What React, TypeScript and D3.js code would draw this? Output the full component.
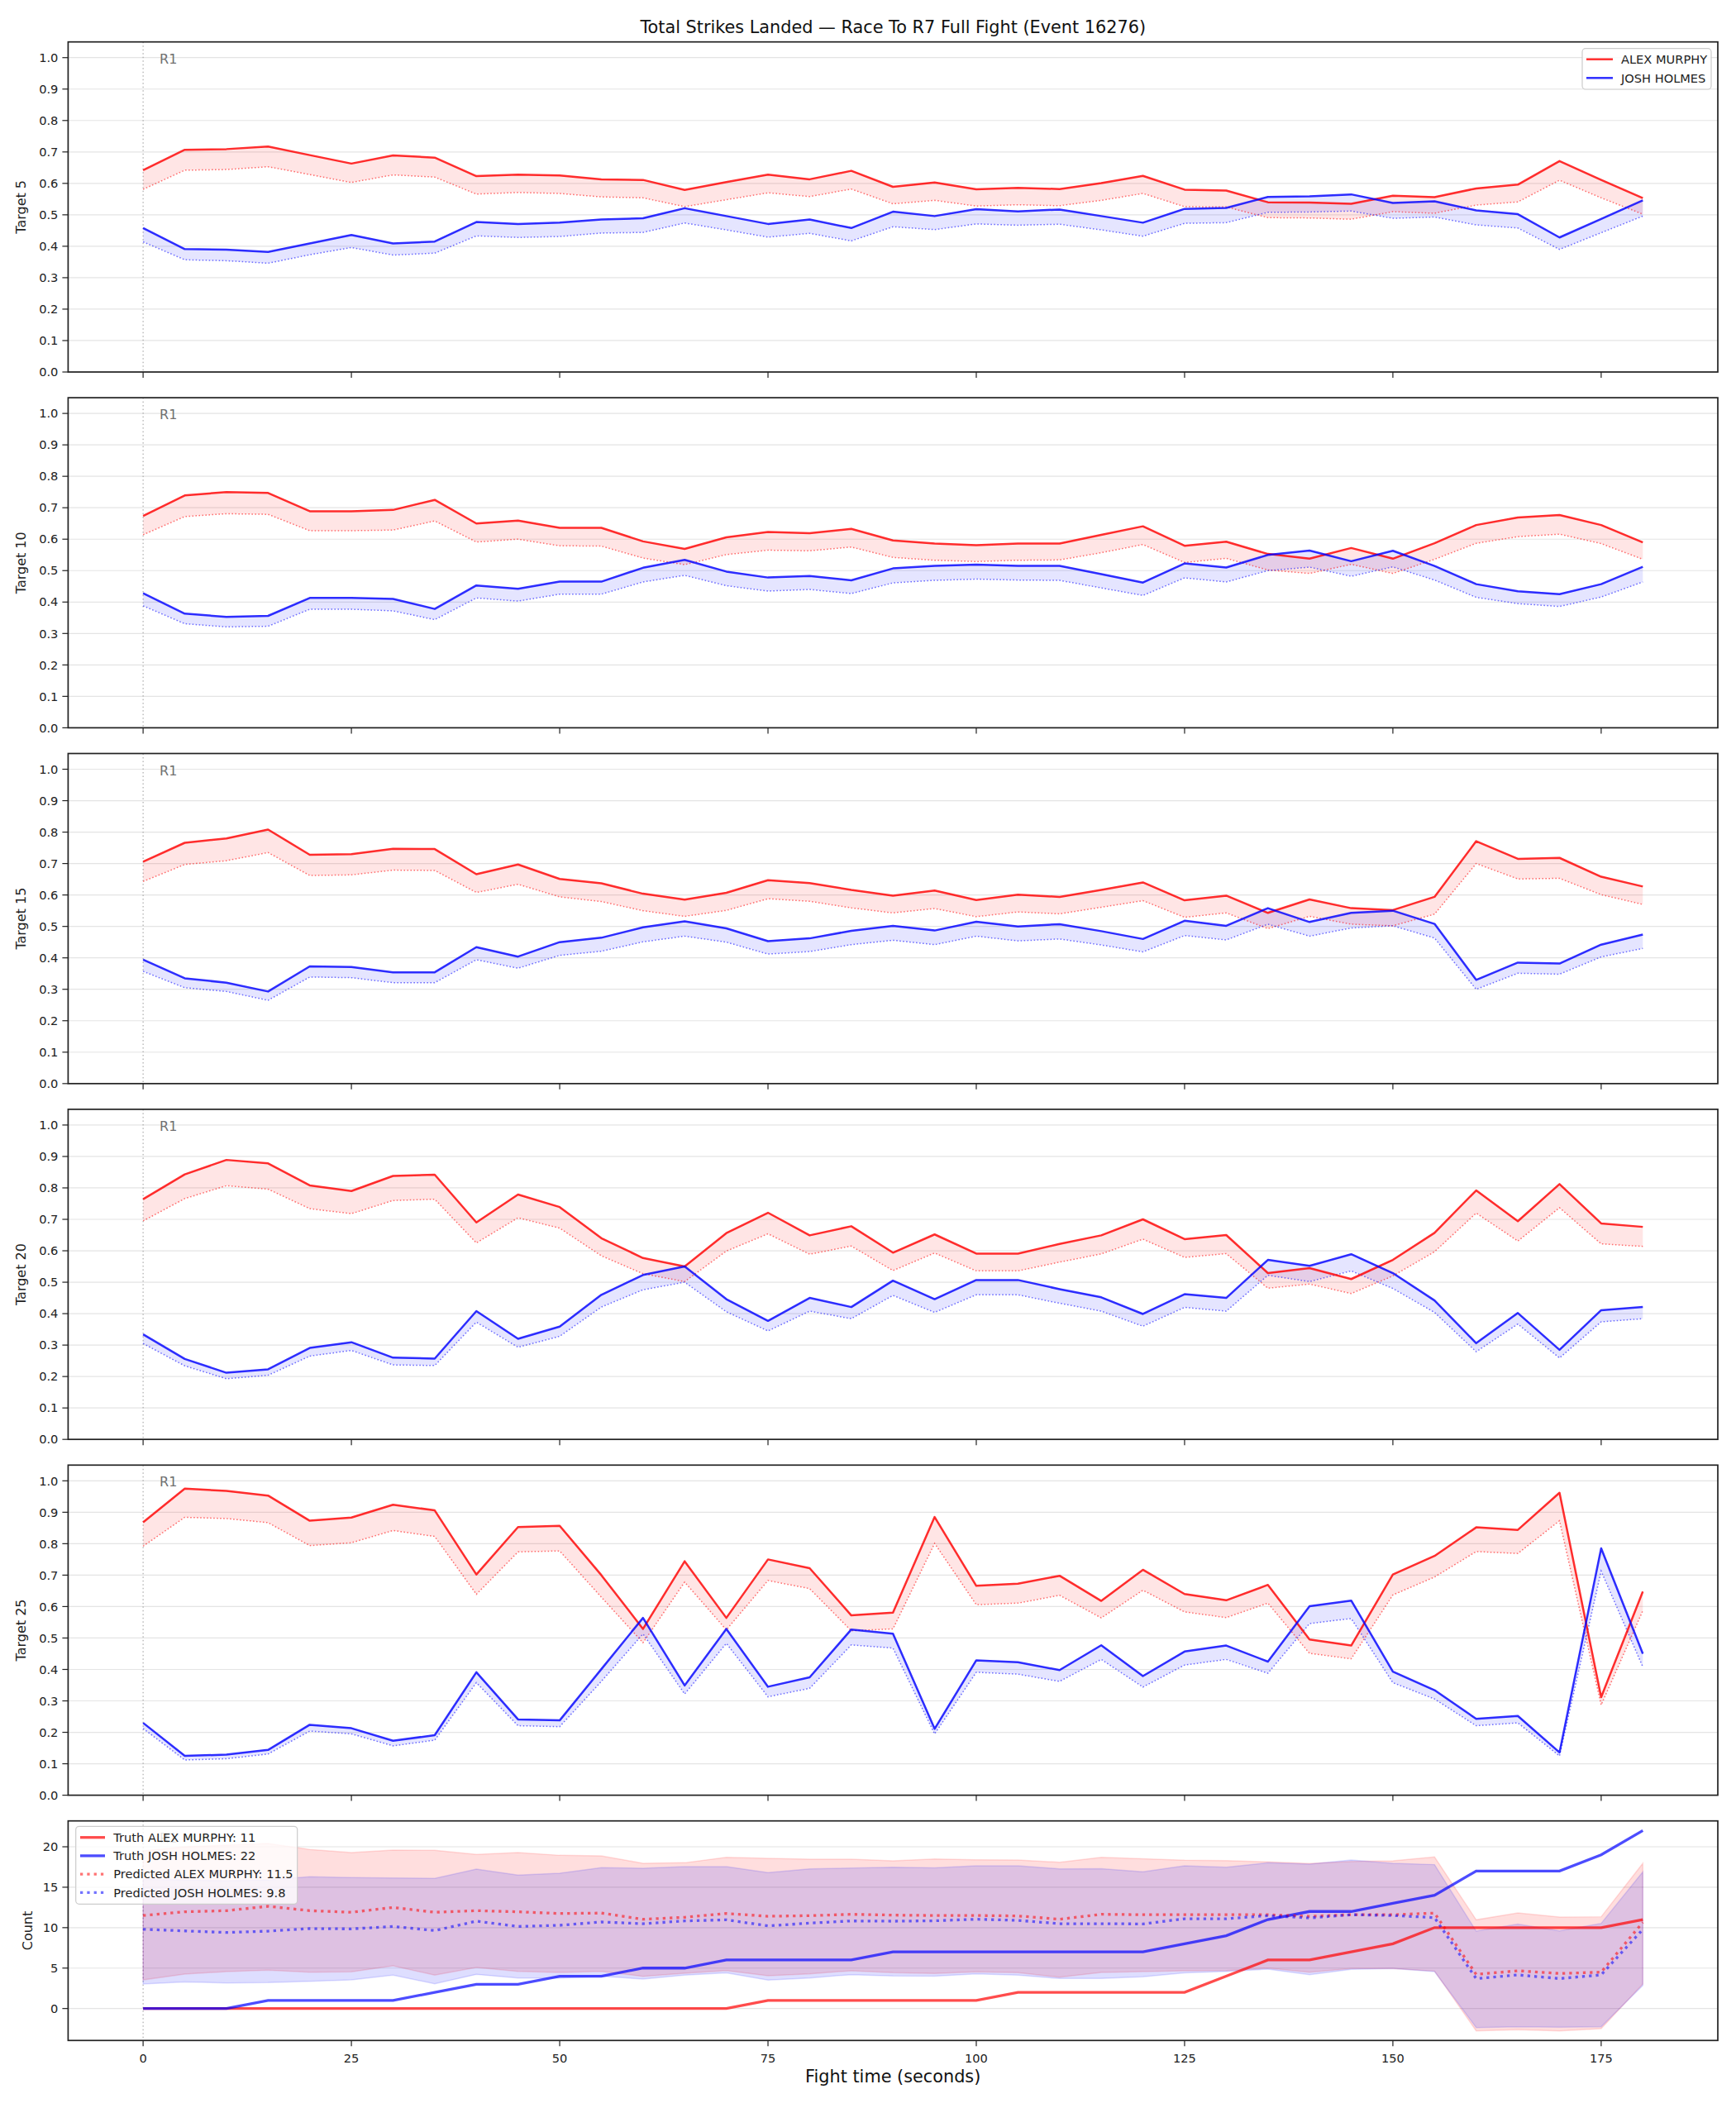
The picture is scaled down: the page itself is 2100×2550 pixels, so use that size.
import React, { useEffect, useRef } from "react";
import * as d3 from "d3";

const times = [0, 5, 10, 15, 20, 25, 30, 35, 40, 45, 50, 55, 60, 65, 70, 75, 80, 85, 90, 95, 100, 105, 110, 115, 120, 125, 130, 135, 140, 145, 150, 155, 160, 165, 170, 175, 180];
const xTickValues = [0, 25, 50, 75, 100, 125, 150, 175];
const probTicks = [0, 0.1, 0.2, 0.3, 0.4, 0.5, 0.6, 0.7, 0.8, 0.9, 1.0];
const countTicks = [0, 5, 10, 15, 20];

const fighterA = "ALEX MURPHY";
const fighterB = "JOSH HOLMES";

// Target 5
const t5MurphyTruth = [0.642, 0.707, 0.709, 0.717, 0.690, 0.663, 0.689, 0.682, 0.623, 0.628, 0.625, 0.613, 0.611, 0.579, 0.604, 0.628, 0.613, 0.640, 0.589, 0.603, 0.581, 0.586, 0.582, 0.601, 0.624, 0.580, 0.577, 0.540, 0.539, 0.535, 0.561, 0.556, 0.584, 0.596, 0.671, 0.611, 0.553];
const t5MurphyPred = [0.581, 0.642, 0.644, 0.653, 0.628, 0.603, 0.627, 0.620, 0.566, 0.571, 0.568, 0.557, 0.554, 0.526, 0.548, 0.570, 0.558, 0.582, 0.535, 0.546, 0.528, 0.532, 0.529, 0.546, 0.568, 0.526, 0.525, 0.491, 0.490, 0.486, 0.510, 0.505, 0.531, 0.541, 0.610, 0.554, 0.502];
const t5HolmesTruth = [0.458, 0.391, 0.389, 0.382, 0.409, 0.436, 0.409, 0.415, 0.477, 0.471, 0.475, 0.485, 0.489, 0.521, 0.496, 0.471, 0.485, 0.458, 0.510, 0.496, 0.518, 0.511, 0.517, 0.496, 0.475, 0.519, 0.522, 0.557, 0.559, 0.565, 0.538, 0.543, 0.514, 0.502, 0.428, 0.487, 0.546];
const t5HolmesPred = [0.414, 0.357, 0.354, 0.346, 0.373, 0.396, 0.372, 0.378, 0.433, 0.428, 0.431, 0.442, 0.444, 0.474, 0.452, 0.429, 0.441, 0.417, 0.462, 0.453, 0.471, 0.467, 0.470, 0.452, 0.432, 0.473, 0.475, 0.508, 0.509, 0.512, 0.489, 0.493, 0.468, 0.458, 0.390, 0.443, 0.496];

// Target 10
const t10MurphyTruth = [0.674, 0.739, 0.750, 0.747, 0.689, 0.689, 0.693, 0.725, 0.650, 0.659, 0.636, 0.636, 0.593, 0.569, 0.606, 0.623, 0.619, 0.633, 0.596, 0.586, 0.581, 0.586, 0.586, 0.614, 0.641, 0.579, 0.592, 0.553, 0.538, 0.572, 0.538, 0.587, 0.645, 0.669, 0.677, 0.645, 0.590];
const t10MurphyPred = [0.614, 0.672, 0.681, 0.679, 0.627, 0.627, 0.629, 0.658, 0.591, 0.600, 0.579, 0.578, 0.540, 0.519, 0.551, 0.565, 0.563, 0.575, 0.542, 0.533, 0.529, 0.533, 0.534, 0.557, 0.583, 0.526, 0.539, 0.502, 0.491, 0.520, 0.491, 0.536, 0.587, 0.608, 0.616, 0.586, 0.536];
const t10HolmesTruth = [0.428, 0.363, 0.353, 0.356, 0.413, 0.413, 0.410, 0.378, 0.453, 0.442, 0.465, 0.465, 0.509, 0.534, 0.497, 0.478, 0.483, 0.469, 0.507, 0.515, 0.519, 0.515, 0.515, 0.489, 0.462, 0.523, 0.510, 0.550, 0.564, 0.530, 0.563, 0.515, 0.457, 0.434, 0.425, 0.457, 0.512];
const t10HolmesPred = [0.388, 0.331, 0.321, 0.323, 0.377, 0.377, 0.372, 0.344, 0.413, 0.403, 0.425, 0.425, 0.464, 0.485, 0.452, 0.435, 0.440, 0.427, 0.461, 0.469, 0.473, 0.470, 0.469, 0.445, 0.421, 0.477, 0.464, 0.500, 0.511, 0.482, 0.512, 0.470, 0.415, 0.395, 0.386, 0.416, 0.464];

// Target 15
const t15MurphyTruth = [0.706, 0.766, 0.780, 0.808, 0.728, 0.730, 0.747, 0.746, 0.666, 0.697, 0.651, 0.637, 0.604, 0.585, 0.607, 0.647, 0.638, 0.616, 0.598, 0.614, 0.584, 0.601, 0.594, 0.616, 0.640, 0.583, 0.598, 0.543, 0.586, 0.558, 0.552, 0.594, 0.771, 0.715, 0.718, 0.658, 0.627];
const t15MurphyPred = [0.643, 0.697, 0.709, 0.735, 0.662, 0.664, 0.679, 0.678, 0.608, 0.634, 0.594, 0.579, 0.550, 0.532, 0.551, 0.588, 0.580, 0.559, 0.543, 0.557, 0.531, 0.546, 0.540, 0.561, 0.582, 0.529, 0.543, 0.493, 0.532, 0.507, 0.502, 0.539, 0.700, 0.651, 0.653, 0.601, 0.570];
const t15HolmesTruth = [0.394, 0.335, 0.321, 0.293, 0.373, 0.371, 0.354, 0.354, 0.434, 0.404, 0.450, 0.464, 0.497, 0.516, 0.494, 0.453, 0.462, 0.486, 0.502, 0.487, 0.515, 0.500, 0.507, 0.485, 0.460, 0.518, 0.502, 0.558, 0.514, 0.543, 0.550, 0.508, 0.330, 0.385, 0.382, 0.442, 0.474];
const t15HolmesPred = [0.357, 0.305, 0.293, 0.265, 0.339, 0.337, 0.321, 0.321, 0.394, 0.367, 0.408, 0.421, 0.451, 0.469, 0.450, 0.412, 0.420, 0.442, 0.456, 0.442, 0.469, 0.454, 0.460, 0.441, 0.419, 0.471, 0.457, 0.507, 0.469, 0.495, 0.502, 0.463, 0.300, 0.351, 0.348, 0.403, 0.430];

// Target 20
const t20MurphyTruth = [0.764, 0.843, 0.889, 0.878, 0.808, 0.790, 0.838, 0.842, 0.690, 0.779, 0.739, 0.640, 0.577, 0.550, 0.656, 0.721, 0.649, 0.678, 0.594, 0.652, 0.591, 0.591, 0.622, 0.649, 0.700, 0.637, 0.650, 0.529, 0.545, 0.510, 0.571, 0.657, 0.792, 0.694, 0.812, 0.687, 0.676];
const t20MurphyPred = [0.695, 0.766, 0.807, 0.796, 0.734, 0.718, 0.760, 0.764, 0.625, 0.705, 0.672, 0.584, 0.527, 0.502, 0.599, 0.654, 0.589, 0.615, 0.537, 0.593, 0.536, 0.536, 0.564, 0.590, 0.637, 0.579, 0.591, 0.481, 0.494, 0.464, 0.520, 0.597, 0.720, 0.631, 0.737, 0.622, 0.614];
const t20HolmesTruth = [0.334, 0.256, 0.212, 0.223, 0.291, 0.309, 0.260, 0.257, 0.408, 0.320, 0.359, 0.460, 0.523, 0.550, 0.446, 0.377, 0.450, 0.421, 0.505, 0.446, 0.507, 0.507, 0.478, 0.452, 0.399, 0.462, 0.450, 0.571, 0.552, 0.589, 0.529, 0.442, 0.306, 0.402, 0.285, 0.411, 0.421];
const t20HolmesPred = [0.305, 0.234, 0.193, 0.204, 0.265, 0.283, 0.237, 0.235, 0.373, 0.293, 0.328, 0.421, 0.476, 0.500, 0.406, 0.345, 0.408, 0.384, 0.458, 0.404, 0.460, 0.460, 0.433, 0.408, 0.360, 0.420, 0.408, 0.522, 0.502, 0.536, 0.480, 0.404, 0.279, 0.367, 0.259, 0.374, 0.384];

// Target 25
const t25MurphyTruth = [0.868, 0.975, 0.968, 0.953, 0.873, 0.883, 0.924, 0.906, 0.702, 0.853, 0.857, 0.700, 0.529, 0.744, 0.564, 0.750, 0.722, 0.572, 0.581, 0.885, 0.666, 0.673, 0.698, 0.618, 0.717, 0.640, 0.620, 0.669, 0.495, 0.476, 0.702, 0.761, 0.852, 0.844, 0.962, 0.312, 0.648];
const t25MurphyPred = [0.792, 0.884, 0.880, 0.867, 0.794, 0.803, 0.842, 0.823, 0.639, 0.774, 0.777, 0.630, 0.485, 0.678, 0.526, 0.683, 0.657, 0.523, 0.529, 0.801, 0.606, 0.611, 0.636, 0.564, 0.652, 0.583, 0.565, 0.611, 0.451, 0.434, 0.637, 0.694, 0.775, 0.769, 0.873, 0.287, 0.587];
const t25HolmesTruth = [0.230, 0.125, 0.129, 0.144, 0.224, 0.213, 0.173, 0.191, 0.391, 0.241, 0.238, 0.401, 0.564, 0.349, 0.529, 0.345, 0.375, 0.527, 0.514, 0.211, 0.429, 0.423, 0.398, 0.477, 0.379, 0.457, 0.476, 0.425, 0.601, 0.619, 0.393, 0.334, 0.243, 0.252, 0.136, 0.785, 0.450];
const t25HolmesPred = [0.212, 0.112, 0.116, 0.131, 0.204, 0.195, 0.157, 0.175, 0.358, 0.221, 0.218, 0.362, 0.513, 0.322, 0.483, 0.313, 0.340, 0.478, 0.468, 0.195, 0.391, 0.385, 0.362, 0.432, 0.344, 0.414, 0.432, 0.388, 0.546, 0.562, 0.358, 0.306, 0.221, 0.230, 0.125, 0.713, 0.408];

// Count panel
const murphyCountTruth = [0, 0, 0, 0, 0, 0, 0, 0, 0, 0, 0, 0, 0, 0, 0, 1, 1, 1, 1, 1, 1, 2, 2, 2, 2, 2, 4, 6, 6, 7, 8, 10, 10, 10, 10, 10, 11];
const holmesCountTruth = [0, 0, 0, 1, 1, 1, 1, 2, 3, 3, 4, 4, 5, 5, 6, 6, 6, 6, 7, 7, 7, 7, 7, 7, 7, 8, 9, 11, 12, 12, 13, 14, 17, 17, 17, 19, 22];
const murphyCountPred = [11.5, 11.96, 12.1, 12.64, 12.1, 11.9, 12.5, 11.9, 12.1, 11.96, 11.75, 11.8, 11.04, 11.28, 11.75, 11.41, 11.48, 11.65, 11.55, 11.5, 11.5, 11.45, 11.04, 11.65, 11.6, 11.6, 11.6, 11.6, 11.4, 11.6, 11.6, 11.8, 4.22, 4.67, 4.33, 4.5, 10.66];
const holmesCountPred = [9.8, 9.6, 9.4, 9.57, 9.88, 9.85, 10.15, 9.64, 10.8, 10.15, 10.29, 10.7, 10.49, 10.83, 10.97, 10.22, 10.56, 10.83, 10.8, 10.85, 11.04, 10.9, 10.49, 10.49, 10.46, 11.1, 11.1, 11.48, 11.2, 11.6, 11.5, 11.24, 3.7, 4.16, 3.7, 4.16, 9.78];
const murphyCountUpper = [19.5, 20.0, 20.2, 20.4, 19.66, 19.28, 19.59, 19.56, 19.05, 19.28, 18.94, 18.88, 17.96, 18.02, 18.7, 18.57, 18.47, 18.47, 18.26, 18.5, 18.4, 18.36, 18.09, 18.7, 18.53, 18.33, 18.3, 18.13, 17.92, 18.19, 18.26, 18.74, 10.97, 11.82, 11.3, 11.35, 17.96];
const murphyCountLower = [3.54, 4.26, 4.57, 4.74, 4.5, 4.53, 5.28, 4.12, 5.08, 4.6, 4.46, 4.6, 3.99, 4.36, 4.7, 4.05, 4.29, 4.67, 4.43, 4.33, 4.53, 4.43, 3.88, 4.46, 4.57, 4.67, 4.7, 5.0, 4.5, 4.94, 4.94, 4.63, -2.76, -2.62, -2.76, -2.49, 3.03];
const holmesCountUpper = [16.0, 15.9, 15.8, 15.9, 16.3, 16.2, 16.15, 16.1, 17.24, 16.49, 16.73, 17.41, 17.34, 17.55, 17.55, 16.8, 17.27, 17.38, 17.48, 17.4, 17.65, 17.65, 17.27, 17.3, 16.9, 17.65, 17.48, 18.02, 17.85, 18.36, 17.96, 17.79, 9.57, 10.43, 9.6, 10.53, 16.9];
const holmesCountLower = [3.03, 3.3, 3.17, 3.2, 3.37, 3.54, 4.12, 3.07, 4.22, 3.78, 3.78, 3.99, 3.65, 4.12, 4.4, 3.51, 3.78, 4.19, 4.02, 4.0, 4.29, 4.12, 3.71, 3.71, 3.92, 4.4, 4.6, 4.87, 4.19, 4.84, 4.94, 4.57, -2.35, -2.25, -2.32, -2.25, 2.86];

const targetPanels = [
  { label: "Target 5", mt: t5MurphyTruth, mp: t5MurphyPred, ht: t5HolmesTruth, hp: t5HolmesPred },
  { label: "Target 10", mt: t10MurphyTruth, mp: t10MurphyPred, ht: t10HolmesTruth, hp: t10HolmesPred },
  { label: "Target 15", mt: t15MurphyTruth, mp: t15MurphyPred, ht: t15HolmesTruth, hp: t15HolmesPred },
  { label: "Target 20", mt: t20MurphyTruth, mp: t20MurphyPred, ht: t20HolmesTruth, hp: t20HolmesPred },
  { label: "Target 25", mt: t25MurphyTruth, mp: t25MurphyPred, ht: t25HolmesTruth, hp: t25HolmesPred },
];

const W = 2100;
const H = 2550;
const FONT = "DejaVu Sans, Liberation Sans, sans-serif";
const RED = "#ff0000";
const BLUE = "#0000ff";

const App = () => {
  const ref = useRef<SVGSVGElement>(null);

  useEffect(() => {
    const svg = d3.select(ref.current);
    svg.selectAll("*").remove();
    svg.append("rect").attr("width", W).attr("height", H).attr("fill", "#fff");

    const left = 82.4;
    const right = 2078;
    const x = d3.scaleLinear().domain([-9, 189]).range([left, right]);

    // shared axes frame: grid, x=0 marker, spines, ticks
    const drawGrid = (g: any, y: any, ticks: number[], top: number, bottom: number) => {
      g.append("g")
        .selectAll("line")
        .data(ticks)
        .enter().append("line")
        .attr("x1", left).attr("x2", right)
        .attr("y1", (d: number) => y(d)).attr("y2", (d: number) => y(d))
        .attr("stroke", "#e4e4e4").attr("stroke-width", 1.2);
      g.append("line")
        .attr("x1", x(0)).attr("x2", x(0))
        .attr("y1", top).attr("y2", bottom)
        .attr("stroke", "#999").attr("stroke-width", 1)
        .attr("stroke-dasharray", "1.5,3");
    };

    const drawFrame = (g: any, y: any, ticks: number[], fmt: (d: number) => string, top: number, bottom: number, showX: boolean, yLabel: string, labelX: number) => {
      g.append("rect")
        .attr("x", left).attr("y", top)
        .attr("width", right - left).attr("height", bottom - top)
        .attr("fill", "none").attr("stroke", "#222").attr("stroke-width", 1.7);

      g.append("g")
        .selectAll("line")
        .data(ticks)
        .enter().append("line")
        .attr("x1", left - 7).attr("x2", left)
        .attr("y1", (d: number) => y(d)).attr("y2", (d: number) => y(d))
        .attr("stroke", "#222").attr("stroke-width", 1.2);
      g.append("g")
        .selectAll("text")
        .data(ticks)
        .enter().append("text")
        .attr("x", left - 12)
        .attr("y", (d: number) => y(d) + 5.2)
        .attr("text-anchor", "end")
        .attr("font-family", FONT).attr("font-size", 14.6).attr("fill", "#222")
        .text(fmt);

      g.append("g")
        .selectAll("line")
        .data(xTickValues)
        .enter().append("line")
        .attr("x1", (d: number) => x(d)).attr("x2", (d: number) => x(d))
        .attr("y1", bottom).attr("y2", bottom + 7)
        .attr("stroke", "#222").attr("stroke-width", 1.2);
      if (showX) {
        g.append("g")
          .selectAll("text")
          .data(xTickValues)
          .enter().append("text")
          .attr("x", (d: number) => x(d))
          .attr("y", bottom + 27)
          .attr("text-anchor", "middle")
          .attr("font-family", FONT).attr("font-size", 14.6).attr("fill", "#222")
          .text((d: number) => String(d));
      }

      g.append("text")
        .attr("transform", `translate(${labelX},${(top + bottom) / 2}) rotate(-90)`)
        .attr("text-anchor", "middle")
        .attr("font-family", FONT).attr("font-size", 16).attr("fill", "#222")
        .text(yLabel);

      g.append("text")
        .attr("x", x(0) + 20).attr("y", top + 26)
        .attr("font-family", FONT).attr("font-size", 16).attr("fill", "#707070")
        .text("R1");
    };

    // ----- probability panels -----
    const panelTop0 = 50.7;
    const panelStep = 430.4;
    const panelH = 399.3;

    targetPanels.forEach((p, i) => {
      const top = panelTop0 + i * panelStep;
      const bottom = top + panelH;
      const y = d3.scaleLinear().domain([0, 1.05]).range([bottom, top]);
      const g = svg.append("g");

      drawGrid(g, y, probTicks, top, bottom);

      const band = (a: number[], b: number[]) =>
        d3.area<number>().x((d) => x(d)).y0((_d, k) => y(b[k])).y1((_d, k) => y(a[k]))(times);
      const line = (a: number[]) =>
        d3.line<number>().x((d) => x(d)).y((_d, k) => y(a[k]))(times);

      g.append("path").attr("d", band(p.mt, p.mp)).attr("fill", RED).attr("fill-opacity", 0.1);
      g.append("path").attr("d", band(p.ht, p.hp)).attr("fill", BLUE).attr("fill-opacity", 0.1);

      g.append("path").attr("d", line(p.mp)).attr("fill", "none")
        .attr("stroke", RED).attr("stroke-opacity", 0.55).attr("stroke-width", 1.5)
        .attr("stroke-dasharray", "1.6,2.4");
      g.append("path").attr("d", line(p.hp)).attr("fill", "none")
        .attr("stroke", BLUE).attr("stroke-opacity", 0.55).attr("stroke-width", 1.5)
        .attr("stroke-dasharray", "1.6,2.4");
      g.append("path").attr("d", line(p.mt)).attr("fill", "none")
        .attr("stroke", RED).attr("stroke-opacity", 0.82).attr("stroke-width", 2.5)
        .attr("stroke-linejoin", "round");
      g.append("path").attr("d", line(p.ht)).attr("fill", "none")
        .attr("stroke", BLUE).attr("stroke-opacity", 0.82).attr("stroke-width", 2.5)
        .attr("stroke-linejoin", "round");

      drawFrame(g, y, probTicks, (d) => d.toFixed(1), top, bottom, false, p.label, 30.5);

      if (i === 0) {
        const lg = g.append("g");
        lg.append("rect")
          .attr("x", 1914).attr("y", 58.7).attr("width", 156).attr("height", 49.3)
          .attr("rx", 4).attr("fill", "#fff").attr("fill-opacity", 0.8)
          .attr("stroke", "#cccccc").attr("stroke-width", 1.2);
        [[fighterA, RED], [fighterB, BLUE]].forEach(([name, col], k) => {
          const cy = 71.7 + k * 22.6;
          lg.append("line").attr("x1", 1919).attr("x2", 1951).attr("y1", cy).attr("y2", cy)
            .attr("stroke", col).attr("stroke-opacity", 0.82).attr("stroke-width", 2.5);
          lg.append("text").attr("x", 1961).attr("y", cy + 5.2)
            .attr("font-family", FONT).attr("font-size", 14.6).attr("fill", "#222")
            .text(name);
        });
      }

      if (i === 0) {
        g.append("text")
          .attr("x", (left + right) / 2).attr("y", 39.5)
          .attr("text-anchor", "middle")
          .attr("font-family", FONT).attr("font-size", 20.8).attr("fill", "#111")
          .text("Total Strikes Landed \u2014 Race To R7 Full Fight (Event 16276)");
      }
    });

    // ----- count panel -----
    const cTop = 2202.7;
    const cBottom = 2468.3;
    const yc = d3.scaleLinear().domain([-3.95, 23.2]).range([cBottom, cTop]);
    const gc = svg.append("g");
    drawGrid(gc, yc, countTicks, cTop, cBottom);

    const cBand = (lo: number[], hi: number[]) =>
      d3.area<number>().x((d) => x(d)).y0((_d, k) => yc(lo[k])).y1((_d, k) => yc(hi[k]))(times);
    const cLine = (a: number[]) =>
      d3.line<number>().x((d) => x(d)).y((_d, k) => yc(a[k]))(times);

    gc.append("path").attr("d", cBand(murphyCountLower, murphyCountUpper))
      .attr("fill", RED).attr("fill-opacity", 0.13)
      .attr("stroke", RED).attr("stroke-opacity", 0.13).attr("stroke-width", 1.5);
    gc.append("path").attr("d", cBand(holmesCountLower, holmesCountUpper))
      .attr("fill", BLUE).attr("fill-opacity", 0.13)
      .attr("stroke", BLUE).attr("stroke-opacity", 0.13).attr("stroke-width", 1.5);

    gc.append("path").attr("d", cLine(murphyCountTruth)).attr("fill", "none")
      .attr("stroke", RED).attr("stroke-opacity", 0.7).attr("stroke-width", 3.3);
    gc.append("path").attr("d", cLine(holmesCountTruth)).attr("fill", "none")
      .attr("stroke", BLUE).attr("stroke-opacity", 0.7).attr("stroke-width", 3.3);
    gc.append("path").attr("d", cLine(murphyCountPred)).attr("fill", "none")
      .attr("stroke", RED).attr("stroke-opacity", 0.55).attr("stroke-width", 3.3)
      .attr("stroke-dasharray", "3.3,5");
    gc.append("path").attr("d", cLine(holmesCountPred)).attr("fill", "none")
      .attr("stroke", BLUE).attr("stroke-opacity", 0.55).attr("stroke-width", 3.3)
      .attr("stroke-dasharray", "3.3,5");

    drawFrame(gc, yc, countTicks, (d) => String(d), cTop, cBottom, true, "Count", 39);

    gc.append("text")
      .attr("x", (left + right) / 2).attr("y", 2519)
      .attr("text-anchor", "middle")
      .attr("font-family", FONT).attr("font-size", 20.8).attr("fill", "#111")
      .text("Fight time (seconds)");

    // count legend
    const legendRows = [
      { text: `Truth ${fighterA}: ${murphyCountTruth[murphyCountTruth.length - 1]}`, col: RED, dash: null, op: 0.7 },
      { text: `Truth ${fighterB}: ${holmesCountTruth[holmesCountTruth.length - 1]}`, col: BLUE, dash: null, op: 0.7 },
      { text: `Predicted ${fighterA}: ${murphyCountPred[0].toFixed(1)}`, col: RED, dash: "3.3,5", op: 0.55 },
      { text: `Predicted ${fighterB}: ${holmesCountPred[0].toFixed(1)}`, col: BLUE, dash: "3.3,5", op: 0.55 },
    ];
    const cl = gc.append("g");
    cl.append("rect")
      .attr("x", 91.7).attr("y", 2209.3).attr("width", 268).attr("height", 94)
      .attr("rx", 4).attr("fill", "#fff").attr("fill-opacity", 0.8)
      .attr("stroke", "#cccccc").attr("stroke-width", 1.2);
    legendRows.forEach((r, k) => {
      const cy = 2222.7 + k * 22.2;
      const ln = cl.append("line").attr("x1", 97).attr("x2", 127).attr("y1", cy).attr("y2", cy)
        .attr("stroke", r.col).attr("stroke-opacity", r.op).attr("stroke-width", 3.3);
      if (r.dash) ln.attr("stroke-dasharray", r.dash);
      cl.append("text").attr("x", 137.3).attr("y", cy + 5.2)
        .attr("font-family", FONT).attr("font-size", 14.6).attr("fill", "#222")
        .text(r.text);
    });
  }, []);

  return (
    <svg
      ref={ref}
      width={W}
      height={H}
      style={{ position: "absolute", left: 0, top: 0, display: "block" }}
    ></svg>
  );
};

export default App;
